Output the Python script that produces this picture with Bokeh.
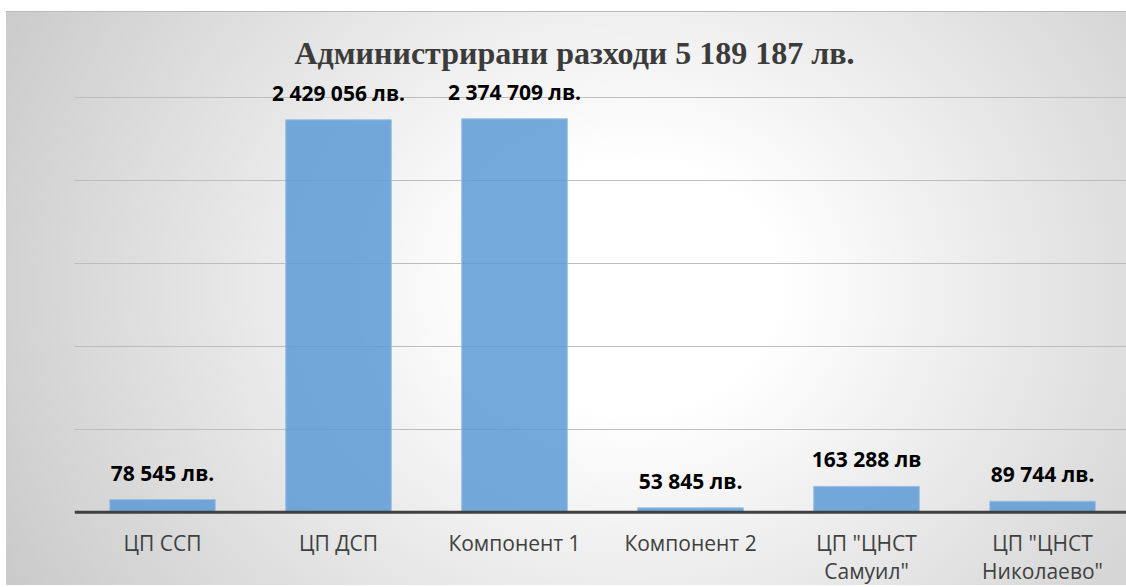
from bokeh.plotting import figure
from bokeh.models import FixedTicker, Range1d, ColumnDataSource, Span
from bokeh.embed import file_html
from bokeh.resources import INLINE
from bokeh.core.properties import value

# ---- data ----
categories = ["ЦП ССП", "ЦП ДСП", "Компонент 1", "Компонент 2",
              "ЦП \"ЦНСТ\nСамуил\"", "ЦП \"ЦНСТ\nНиколаево\""]
# bar heights as drawn in the picture
bar_heights = [78545, 2429056, 2435000, 27000, 160000, 68000]
# value labels as printed above the bars
value_labels = ["78 545 лв.", "2 429 056 лв.", "2 374 709 лв.",
                "53 845 лв.", "163 288 лв", "89 744 лв."]
title_text = "Администрирани разходи 5 189 187 лв."
grid_values = [513000, 1026000, 1539000, 2052000, 2565000]
y_min, y_max = -466000, 2703000

xs = [i + 0.5 for i in range(len(categories))]
src = ColumnDataSource(dict(x=xs, top=bar_heights, label=value_labels,
                            zero=[0] * len(xs), cat=categories))

p = figure(width=1126, height=587,
           x_range=Range1d(0, 5.977), y_range=Range1d(y_min, y_max),
           output_backend="svg", toolbar_location=None,
           min_border_left=74, min_border_right=0,
           min_border_top=75, min_border_bottom=0)

p.styles = {
    "background":
        "linear-gradient(#b9b9b9,#b9b9b9) 6px 11px / 100% 1px no-repeat, "
        "linear-gradient(#cdcdcd,#cdcdcd) 6px 11px / 1px 574px no-repeat, "
        "radial-gradient(ellipse 70% 120% at 55% 48%, #ffffff 18%, #c2c2c2 100%) "
        "6px 11px / 1140px 574px no-repeat, #ffffff"
}
p.background_fill_alpha = 0
p.border_fill_alpha = 0
p.outline_line_color = None

# title
p.title.text = title_text
p.title.align = "left"
p.title.offset = 220
p.title.text_font = "Liberation Serif"
p.title.text_font_style = "bold"
p.title.text_font_size = "32px"
p.title.text_color = "#3b3b3b"
p.title.standoff = 10

# bars
p.vbar(x="x", top="top", width=0.6, source=src,
       fill_color="#5b9bd5", fill_alpha=0.85,
       line_color="#9cc2e6", line_width=1)

# value labels
p.text(x="x", y="top", text="label", source=src,
       text_align="center", text_baseline="alphabetic", y_offset=-27,
       text_font=value("Open Sans"), text_font_style="bold",
       text_font_size="21px", text_color="#000000")

# category labels under the baseline
p.text(x="x", y="zero", text="cat", source=src,
       text_align="center", text_baseline="top", y_offset=17,
       text_line_height=1.0,
       text_font=value("Open Sans"), text_font_size="21px",
       text_color="#404040")

# baseline (category axis line)
p.add_layout(Span(location=0, dimension="width",
                  line_color="#404040", line_width=3))

# axes & grid
p.xaxis.visible = False
p.yaxis.visible = False
p.xgrid.visible = False
p.ygrid.ticker = FixedTicker(ticks=grid_values)
p.ygrid.grid_line_color = "#bdbdbd"
p.ygrid.grid_line_width = 1

open("out.html", "w").write(file_html(p, INLINE))
